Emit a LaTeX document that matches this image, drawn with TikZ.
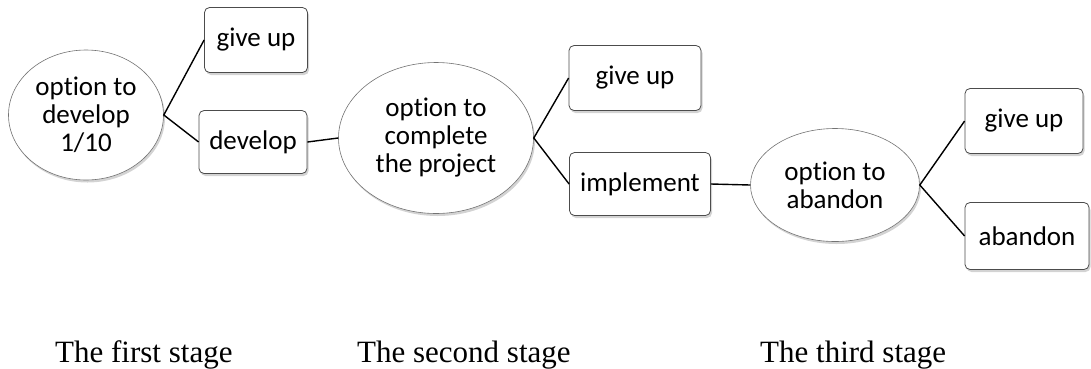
\documentclass[tikz,border=0pt]{standalone}
\usepackage{fontspec}
\setmainfont{Liberation Serif}
\newfontfamily\boxfont[Ligatures=NoCommon]{Carlito}
\usetikzlibrary{shapes.geometric,shadows}
\tikzset{
  choice/.style={draw=black!55,line width=.6pt,fill=white,ellipse,inner sep=0pt,
    align=center,font=\boxfont\fontsize{27}{28}\selectfont,
    drop shadow={shadow xshift=1.5pt,shadow yshift=-2.5pt,opacity=.35}},
  act/.style={draw=black!70,line width=.8pt,fill=white,rectangle,rounded corners=5pt,
    inner sep=0pt,font=\boxfont\fontsize{27}{28}\selectfont,
    drop shadow={shadow xshift=1.5pt,shadow yshift=-2.5pt,opacity=.35}},
  stagelbl/.style={anchor=base west,inner sep=0pt,font=\fontsize{31}{36}\selectfont},
  link/.style={line width=1.4pt}
}
\begin{document}
\begin{tikzpicture}[x=1pt,y=-1pt]
  \useasboundingbox (0,0) rectangle (1091,368);
  % first stage
  \node[choice,minimum width=155pt,minimum height=130pt] (e1) at (86,115) {option to\\develop\\1/10};
  \node[act,minimum width=103pt,minimum height=65pt] (gu1) at (256,40) {give up};
  \node[act,minimum width=108pt,minimum height=63pt] (dev) at (253,142) {develop};
  % second stage
  \node[choice,minimum width=195pt,minimum height=151pt] (e2) at (436,138) {option to\\complete\\the project};
  \node[act,minimum width=132pt,minimum height=65pt] (gu2) at (635,78) {give up};
  \node[act,minimum width=141pt,minimum height=63pt] (imp) at (640,184) {implement};
  % third stage
  \node[choice,minimum width=169pt,minimum height=113pt] (e3) at (835,185) {option to\\abandon};
  \node[act,minimum width=118pt,minimum height=65pt] (gu3) at (1024,121) {give up};
  \node[act,minimum width=124pt,minimum height=67pt] (ab) at (1027,236) {abandon};
  \draw[link] (gu1.west) -- (e1.east) -- (dev.west);
  \draw[link] (dev.east) -- (e2.west);
  \draw[link] (gu2.west) -- (e2.east) -- (imp.west);
  \draw[link] (imp.east) -- (e3.west);
  \draw[link] (gu3.west) -- (e3.east) -- (ab.west);
  \node[stagelbl] (s1) at (55,362) {The first stage};
  \node[stagelbl] (s2) at (357,362) {The second stage};
  \node[stagelbl] (s3) at (760,362) {The third stage};
\end{tikzpicture}
\end{document}
